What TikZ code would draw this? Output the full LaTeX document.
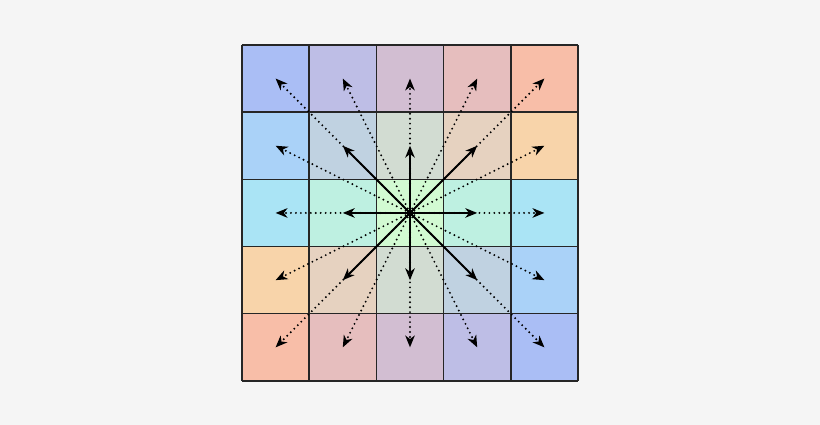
\documentclass[tikz,border=0pt]{standalone}
\usetikzlibrary{arrows.meta}
\definecolor{bgpage}{HTML}{F5F5F5}
\definecolor{cell-0-0}{HTML}{AABEF5}
\definecolor{cell-0-1}{HTML}{BEBEE6}
\definecolor{cell-0-2}{HTML}{D2BED2}
\definecolor{cell-0-3}{HTML}{E6BEBE}
\definecolor{cell-0-4}{HTML}{F8BEA8}
\definecolor{cell-1-0}{HTML}{AAD2F8}
\definecolor{cell-1-1}{HTML}{C0D2E1}
\definecolor{cell-1-2}{HTML}{D2DCD2}
\definecolor{cell-1-3}{HTML}{E6D2C0}
\definecolor{cell-1-4}{HTML}{F8D4AA}
\definecolor{cell-2-0}{HTML}{AAE4F5}
\definecolor{cell-2-1}{HTML}{BEF0E1}
\definecolor{cell-2-2}{HTML}{D2FAD2}
\colorlet{cell-2-3}{cell-2-1}
\colorlet{cell-2-4}{cell-2-0}
\colorlet{cell-3-0}{cell-1-4}
\colorlet{cell-3-1}{cell-1-3}
\colorlet{cell-3-2}{cell-1-2}
\colorlet{cell-3-3}{cell-1-1}
\colorlet{cell-3-4}{cell-1-0}
\colorlet{cell-4-0}{cell-0-4}
\colorlet{cell-4-1}{cell-0-3}
\colorlet{cell-4-2}{cell-0-2}
\colorlet{cell-4-3}{cell-0-1}
\colorlet{cell-4-4}{cell-0-0}
\tikzset{
  gridline/.style={line width=0.6pt,black!85},
  near/.style={line width=0.85pt,-{Stealth[length=5pt,width=4pt,inset=1.5pt]}},
  far/.style={line width=0.9pt,line cap=round,dash pattern=on 0pt off 2.1pt,
    -{Stealth[length=5pt,width=4pt,inset=1.5pt]}},
}
\begin{document}
\begin{tikzpicture}
        \fill[bgpage] (-3.601,-0.655) rectangle (8.601,5.669);
        \useasboundingbox (-3.601,-0.655) rectangle (8.601,5.669);
        \foreach \r in {0,...,4}
          \foreach \c in {0,...,4}{
            \fill[cell-\r-\c] (\c,4-\r) rectangle ++(1,1);
            \coordinate (p-\r-\c) at (\c+0.5,4.5-\r);
          }
        \draw[gridline] (0,0) grid (5,5);
        \coordinate (mid) at (2.5,2.5);
        \foreach \r/\c in {0/0,0/1,0/2,0/3,0/4,1/0,1/4,2/0,2/4,3/0,3/4,4/0,4/1,4/2,4/3,4/4}
          \draw[far] (mid) -- (p-\r-\c);
        \foreach \r/\c in {1/1,1/2,1/3,2/1,2/3,3/1,3/2,3/3}
          \draw[near] (mid) -- (p-\r-\c);
        \fill (mid) ++(-0.05,-0.05) rectangle ++(0.1,0.1);
    \end{tikzpicture}
\end{document}
